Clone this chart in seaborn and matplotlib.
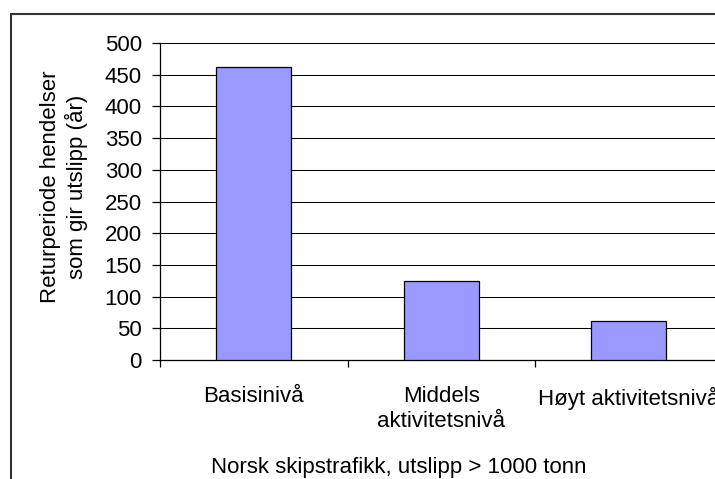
import matplotlib
matplotlib.use("Agg")
import matplotlib.pyplot as plt
from matplotlib.lines import Line2D
import seaborn as sns
import pandas as pd

categories = ["Basisinivå", "Middels\naktivitetsnivå", "Høyt aktivitetsnivå"]
values = [462, 125, 61]
y_ticks = [0, 50, 100, 150, 200, 250, 300, 350, 400, 450, 500]
y_label = "Returperiode hendelser\nsom gir utslipp (år)"
x_label = "Norsk skipstrafikk, utslipp > 1000 tonn"

sns.set_style("white")
plt.rcParams["font.family"] = ["Liberation Sans", "DejaVu Sans"]
FS = 16
plt.rcParams["font.size"] = FS
plt.rcParams["text.color"] = "black"
plt.rcParams["xtick.color"] = "black"
plt.rcParams["ytick.color"] = "black"
plt.rcParams["xtick.labelcolor"] = "black"
plt.rcParams["ytick.labelcolor"] = "black"

W, H = 715, 479
fig = plt.figure(figsize=(W / 100, H / 100), dpi=100)
ax = fig.add_axes([160 / W, (H - 360) / H, 562.5 / W, 317 / H])

df = pd.DataFrame({"cat": categories, "val": values})
sns.barplot(data=df, x="cat", y="val", ax=ax, color="#9999FF", saturation=1,
            width=0.4, edgecolor="black", linewidth=0.9, zorder=3)

ax.set_xlim(-0.5, 2.5)
ax.set_ylim(0, 500)
ax.set_yticks(y_ticks)
ax.yaxis.grid(True, color="black", linewidth=0.75, zorder=0)
ax.set_axisbelow(True)
for s in ["top", "right"]:
    ax.spines[s].set_visible(False)
for s in ["left", "bottom"]:
    ax.spines[s].set_color("black")
    ax.spines[s].set_linewidth(0.9)

ax.set_xlabel("")
ax.set_ylabel("")
ax.tick_params(axis="y", which="major", direction="out", length=6, width=0.9,
               pad=7, labelsize=FS, left=True)
ax.tick_params(axis="x", which="major", length=0, pad=19, labelsize=FS)
ax.set_xticks([-0.5, 0.5, 1.5], minor=True)
ax.tick_params(axis="x", which="minor", direction="out", length=5, width=0.9,
               bottom=True)

fig.text(64 / W, 1 - 187 / H, y_label, rotation=90, ha="center", va="center",
         multialignment="center", fontsize=FS)
fig.text(399 / W, 1 - 468 / H, x_label, ha="center", va="center", fontsize=FS)

# chart frame
fig.add_artist(Line2D([11 / W, 11 / W], [0, 1 - 14 / H], color="#333333", lw=1.5))
fig.add_artist(Line2D([11 / W, 1], [1 - 14 / H, 1 - 14 / H], color="#333333", lw=1.5))

fig.savefig("out.png", dpi=100)
